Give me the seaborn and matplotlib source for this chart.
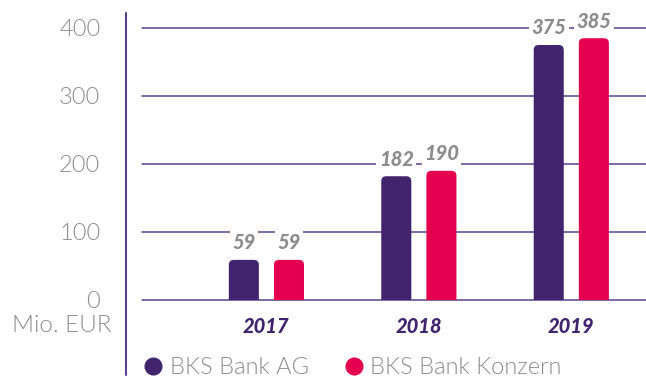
import matplotlib
matplotlib.use("Agg")
import matplotlib.pyplot as plt
from matplotlib.patches import FancyBboxPatch
from matplotlib.lines import Line2D
import seaborn as sns
import pandas as pd

years = ["2017", "2018", "2019"]
series = ["BKS Bank AG", "BKS Bank Konzern"]
bank_ag = [59, 182, 375]
konzern = [59, 190, 385]
y_ticks = [0, 100, 200, 300, 400]
unit_label = "Mio. EUR"

PURPLE = "#42246e"
PINK = "#e4004f"
GRID = "#5d3f8f"
GRAY = "#8c8c8c"

df = pd.DataFrame({
    "year": years * 2,
    "series": [series[0]] * 3 + [series[1]] * 3,
    "value": bank_ag + konzern,
})

sns.set_theme(style="white")
plt.rcParams["font.family"] = ["Lato", "DejaVu Sans"]

fig = plt.figure(figsize=(6.46, 3.78), dpi=100)
W, H = 646, 378
ax = fig.add_axes([142 / W, 1 - 300 / H, 1 - 142 / W, (300 - 28) / H])

sns.barplot(data=df, x="year", y="value", hue="series",
            palette=[PURPLE, PINK], width=0.592, gap=0.334,
            ax=ax, legend=False, saturation=1)

ax.set_xlim(-0.816, 2.49)
ax.set_ylim(0, 400)

# replace the square bars with bars that have rounded tops
bars = list(ax.patches)
px_x = (W - 142) / (2.49 + 0.816)
px_y = (300 - 28) / 400
radius_px = 5
rx = radius_px / px_x
aspect = (radius_px / px_y) / rx
for b in bars:
    x0, w, h = b.get_x(), b.get_width(), b.get_height()
    col = b.get_facecolor()
    b.remove()
    fb = FancyBboxPatch((x0, -30), w, h + 30,
                        boxstyle=f"round,pad=0,rounding_size={rx}",
                        mutation_aspect=aspect, facecolor=col,
                        edgecolor="none", zorder=2)
    ax.add_patch(fb)
    ax.text(x0 + w / 2, h + 17 / px_y, f"{h:.0f}", ha="center", va="center",
            fontsize=14.5, fontweight=900, fontstyle="italic", color=GRAY,
            zorder=4, clip_on=False,
            bbox=dict(boxstyle="square,pad=0.12", fc="white", ec="none"))

# horizontal grid lines
for t in y_ticks:
    ax.axhline(t, color=GRID, lw=1.1, zorder=1, clip_on=False)

for s in ax.spines.values():
    s.set_visible(False)
ax.set_xlabel("")
ax.set_ylabel("")
ax.set_yticks(y_ticks)
ax.set_yticklabels([str(t) for t in y_ticks], fontsize=17, color=GRAY,
                   fontweight=300)
ax.tick_params(axis="y", length=0, pad=30)
ax.tick_params(axis="x", length=0, pad=12)
ax.set_xticks(range(len(years)))
ax.set_xticklabels(years, fontsize=14.5, fontweight=900, fontstyle="italic",
                   color=PURPLE)

# unit label beneath the y tick labels
fig.text(112 / W, 1 - 325 / H, unit_label, ha="right", va="center",
         fontsize=17.5, color=GRAY, fontweight=300)

# vertical rule left of the plot
fig.add_artist(Line2D([126 / W, 126 / W], [1 - 13 / H, 1 - 375 / H],
                      color=GRID, lw=1.5))

handles = [Line2D([], [], marker="o", ls="", color=c, markersize=12)
           for c in (PURPLE, PINK)]
leg = fig.legend(handles, series, loc="center left",
                 bbox_to_anchor=(132 / W, 1 - 368 / H), ncol=2, frameon=False,
                 prop={"size": 17, "weight": 300}, handletextpad=0.2,
                 columnspacing=1.4, handlelength=1.0, borderaxespad=0)
for t in leg.get_texts():
    t.set_color(GRAY)

fig.savefig("out.png", dpi=100)
